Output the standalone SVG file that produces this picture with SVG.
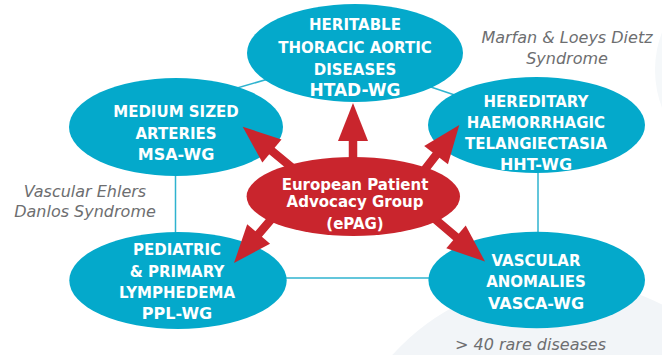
<svg xmlns="http://www.w3.org/2000/svg" width="662" height="355" viewBox="0 0 662 355">
<style>
.node{fill:#04a9cb}
.t{font-family:"DejaVu Sans","Liberation Sans",sans-serif;font-weight:bold;fill:#fff;text-anchor:middle;font-size:15px}
.wg{font-size:16px}
.c{font-family:"DejaVu Sans","Liberation Sans",sans-serif;font-weight:bold;fill:#fff;text-anchor:middle;font-size:15px}
.note{font-family:"DejaVu Sans","Liberation Sans",sans-serif;font-style:italic;fill:#6d6e70;text-anchor:middle;font-size:16px}
.conn line{stroke:#2fb3cf;stroke-width:1.5}
.red{fill:#c9252d}
.shaft{fill:#c9252d;stroke:#fff;stroke-width:1.5}
</style>
<defs>
<g id="arrow">
<rect class="shaft" x="-74" y="-5" width="38" height="10"/>
<polygon class="red" points="0,0 -38,-15 -38,15"/>
</g>
</defs>
<rect width="662" height="355" fill="#fff"/>
<circle cx="560" cy="505" r="225" fill="#f2f5f8"/>
<circle cx="760" cy="70" r="105" fill="#f5f8fa"/>
<g id="connectors" class="conn">
<line x1="200" y1="98.8" x2="300" y2="69.8"/>
<line x1="410" y1="80" x2="480" y2="103.5"/>
<line x1="175.5" y1="150" x2="175.5" y2="260"/>
<line x1="538" y1="150" x2="538" y2="260"/>
<line x1="250" y1="278" x2="460" y2="278"/>
</g>
<g id="htad">
<ellipse class="node" cx="355" cy="53" rx="108" ry="49"/>
<text class="t" x="355" y="30">HERITABLE</text>
<text class="t" x="355" y="53">THORACIC AORTIC</text>
<text class="t" x="355" y="74.5">DISEASES</text>
<text class="t" x="355" y="96" style="font-size:17px">HTAD-WG</text>
</g>
<g id="msa">
<ellipse class="node" cx="176" cy="127" rx="107" ry="49"/>
<text class="t" x="176" y="117">MEDIUM SIZED</text>
<text class="t" x="176" y="138.5">ARTERIES</text>
<text class="t wg" x="176" y="159.5">MSA-WG</text>
</g>
<g id="hht">
<ellipse class="node" cx="536.5" cy="125" rx="108.5" ry="48"/>
<text class="t" x="536" y="107">HEREDITARY</text>
<text class="t" x="536" y="127.5">HAEMORRHAGIC</text>
<text class="t" x="536" y="148.5">TELANGIECTASIA</text>
<text class="t wg" x="536" y="169.5">HHT-WG</text>
</g>
<g id="ppl">
<ellipse class="node" cx="178" cy="280.5" rx="108.7" ry="48.5"/>
<text class="t" x="177" y="255">PEDIATRIC</text>
<text class="t" x="177" y="276.5">&amp; PRIMARY</text>
<text class="t" x="177" y="298">LYMPHEDEMA</text>
<text class="t wg" x="177" y="319">PPL-WG</text>
</g>
<g id="vasca">
<ellipse class="node" cx="536.7" cy="280" rx="108.3" ry="48.3"/>
<text class="t" x="536" y="266">VASCULAR</text>
<text class="t" x="536" y="287">ANOMALIES</text>
<text class="t wg" x="536" y="308.5">VASCA-WG</text>
</g>
<g id="arrows">
<use href="#arrow" transform="translate(353,103) rotate(-90)"/>
<use href="#arrow" transform="translate(242.7,126.7) rotate(-140.3)"/>
<use href="#arrow" transform="translate(459.3,125) rotate(-52.3)"/>
<use href="#arrow" transform="translate(234,263) rotate(130.4)"/>
<use href="#arrow" transform="translate(485,261.5) rotate(40.3)"/>
</g>
<g id="epag">
<ellipse class="red" cx="353.3" cy="196.5" rx="106.7" ry="39.5"/>
<text class="c" x="355" y="190">European Patient</text>
<text class="c" x="355" y="206.7">Advocacy Group</text>
<text class="c" x="355" y="229">(ePAG)</text>
</g>
<g id="notes">
<text class="note" x="567" y="43">Marfan &amp; Loeys Dietz</text>
<text class="note" x="567" y="63.5">Syndrome</text>
<text class="note" x="85" y="197.3">Vascular Ehlers</text>
<text class="note" x="85" y="216.7">Danlos Syndrome</text>
<text class="note" x="530.5" y="350">&gt; 40 rare diseases</text>
</g>
</svg>
